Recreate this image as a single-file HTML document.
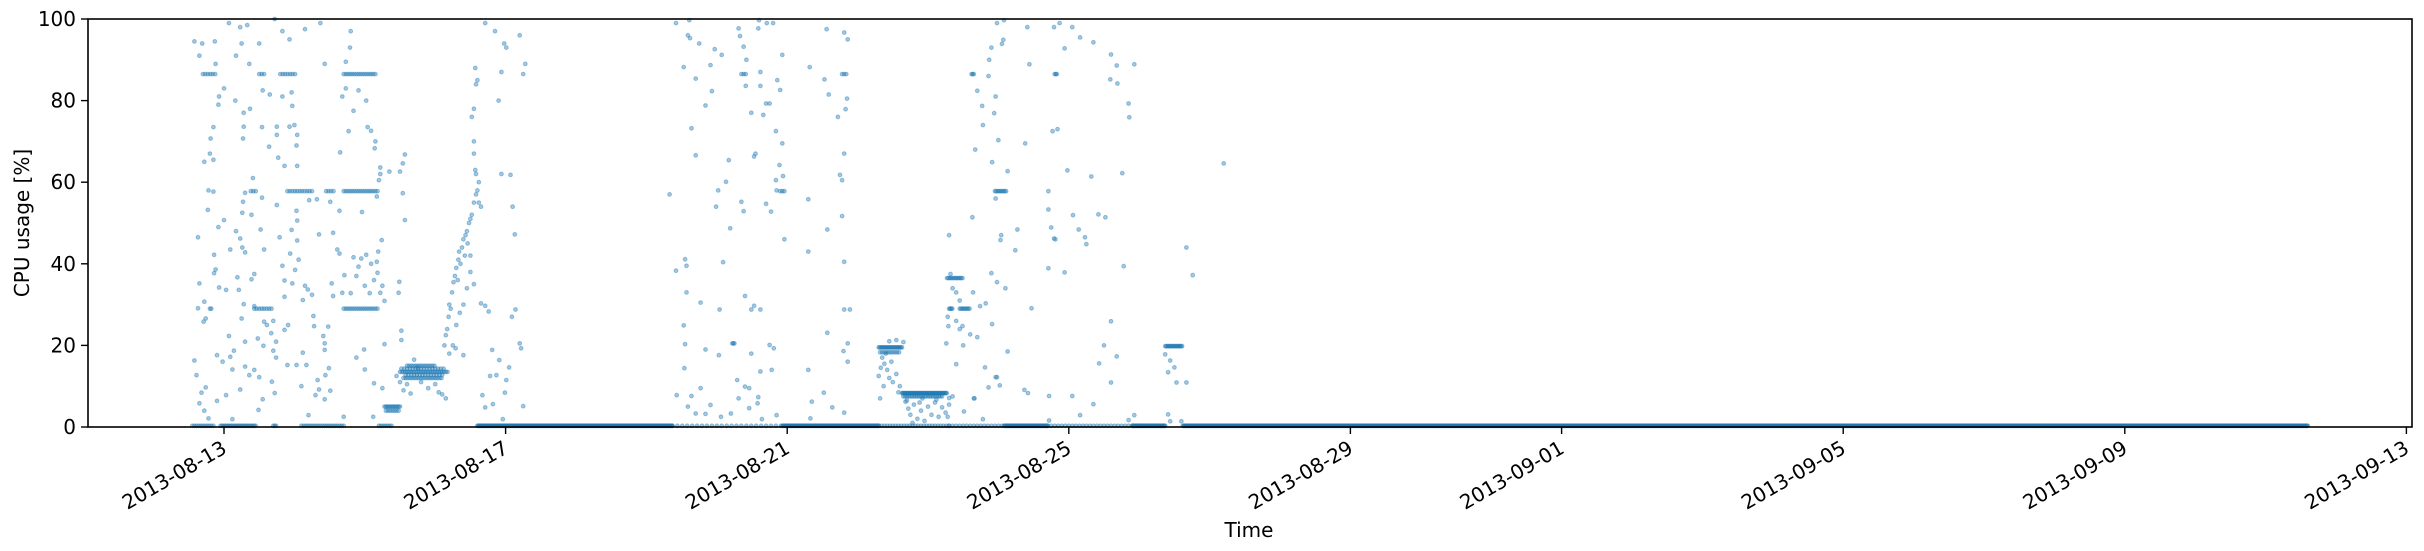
<!DOCTYPE html>
<html><head><meta charset="utf-8"><style>
html,body{margin:0;padding:0;background:#fff;}
svg{display:block;font-family:"DejaVu Sans","Liberation Sans",sans-serif;}
</style></head><body>
<svg id="chart" width="2424" height="551" viewBox="0 0 2424 551" xmlns="http://www.w3.org/2000/svg">
<g id="points"></g>
<g id="axes"></g>
</svg>
<script>
// x values: days since 2013-08-13 00:00; y values: CPU usage %
const xTickLabels = ["2013-08-13","2013-08-17","2013-08-21","2013-08-25","2013-08-29","2013-09-01","2013-09-05","2013-09-09","2013-09-13"];
const xTickDays = [0,4,8,12,16,19,23,27,31];
const yTickValues = [0,20,40,60,80,100];
// dense runs: [startDay, endDay, value, step]
const runs = [
[-0.3,-0.12,86.5,0.035],[0.5,0.6,86.5,0.035],[0.8,1.04,86.5,0.035],[1.7,2.17,86.5,0.03],
[0.38,0.45,57.8,0.035],[0.9,1.28,57.8,0.035],[1.45,1.57,57.8,0.035],[1.7,2.2,57.8,0.03],
[-0.2,-0.17,29,0.02],[0.43,0.68,29,0.035],[1.7,2.2,29,0.03],
[-0.45,-0.15,0.3,0.03],[-0.05,0.45,0.3,0.02],[0.7,0.75,0.3,0.02],[1.1,1.7,0.3,0.03],[2.2,2.4,0.3,0.03],
[2.28,2.5,5,0.02],[2.3,2.48,4,0.03],
[2.5,3.18,13.5,0.025],[2.55,3.1,12,0.03],[2.6,3.0,15,0.03],[2.52,3.15,14.3,0.04],[2.58,3.12,12.8,0.04],
[3.6,6.37,0.3,0.01],[6.37,7.93,0.3,0.07],[7.93,9.3,0.3,0.01],
[9.3,9.63,19.5,0.015],[9.32,9.6,18.3,0.03],
[9.63,10.27,8.3,0.012],[9.65,10.2,7.5,0.025],[9.3,10.3,0.3,0.04],
[10.27,10.5,36.5,0.02],[10.3,10.35,29,0.015],[10.45,10.6,29,0.02],
[10.62,10.65,86.5,0.015],[10.95,11.12,57.8,0.02],[11.8,11.84,86.5,0.015],
[10.3,11.08,0.3,0.05],[11.08,11.7,0.3,0.01],[11.7,12.9,0.3,0.05],[12.9,13.37,0.3,0.01],
[13.37,13.62,19.8,0.015],[13.62,29.6,0.3,0.01],
[7.22,7.26,20.5,0.015],[7.35,7.42,86.5,0.03],[7.9,7.96,57.8,0.03],[8.78,8.84,86.5,0.03]
];
const scatterDays = [-0.42,-0.31,-0.13,0.07,0.23,0.33,0.72,0.83,0.93,1.15,1.37,1.8,-0.35,-0.12,0.25,0.5,0.17,0.36,1.43,1.73,1.79,0,-0.07,0.16,0.55,0.65,0.83,0.96,1.73,1.91,2.02,1.68,1.84,-0.08,0.37,0.28,0.97,0.28,0.75,0.93,1.0,0.54,-0.15,2.04,2.09,-0.19,0.27,0.75,1.04,1.77,-0.2,-0.28,-0.15,0.64,1.03,1.65,2.15,2.14,0.77,0.86,1.04,2.57,2.54,2.22,2.35,2.5,2.22,2.2,0.41,-0.22,-0.15,0.3,0.54,1.21,1.32,1.51,2.17,2.54,0.27,-0.23,0.26,0.75,1.03,1.04,1.64,1.96,2.57,0,0.39,-0.08,0.52,0.17,0.79,0.96,1.35,1.55,-0.37,0.23,1.04,0.09,0.26,0.3,0.57,0.94,1.61,2.24,-0.14,1.06,1.64,1.84,1.95,2.02,2.19,1.01,0.83,1.91,2.09,2.17,-0.14,-0.12,-0.35,-0.07,0.03,0.21,0.19,0.43,0.39,0.86,0.97,1.19,1.25,1.15,1.53,1.71,1.88,2.0,2.13,2.18,2.25,2.49,2.48,1.55,1.68,1.8,2.07,2.22,2.28,0.86,-0.28,-0.37,0.28,0.43,1.12,-0.29,-0.26,0.25,0.57,1.27,0.7,0.91,0.67,0.61,0.86,1.48,1.28,0.07,0.3,0.48,0.74,1.41,1.43,0.56,2.28,2.52,2.52,-0.1,0.14,-0.02,0.09,0.7,1.12,1.43,1.99,1.88,0.74,-0.42,-0.39,0.12,0.3,0.36,0.43,0.5,0.9,1.03,1.17,2.0,1.49,0.68,1.1,1.33,1.44,2.13,-0.32,-0.26,0.23,0.72,1.35,1.51,2.25,-0.35,-0.1,0.03,0.55,1.3,1.43,-0.28,-0.22,0.49,1.2,1.7,2.12,0.12,
2.55,2.6,2.7,2.8,2.9,3.0,3.1,3.15,2.65,3.05,2.45,2.75,2.5,
3.13,3.15,3.17,3.19,3.2,3.22,3.24,3.26,3.28,3.3,3.32,3.33,3.34,3.36,3.38,3.4,3.42,3.43,3.45,3.46,3.48,3.5,3.52,3.55,3.58,3.6,3.62,3.5,3.45,3.4,3.35,3.3,3.25,3.2,3.55,3.5,3.57,3.55,3.52,3.55,3.58,3.6,3.57,3.55,3.58,3.62,3.65,
3.71,3.85,3.98,4.01,4.2,3.94,4.25,4.28,3.9,3.94,4.07,4.1,4.13,3.65,3.71,3.76,4.09,4.14,3.29,3.4,3.81,4.2,4.22,3.91,4.05,3.78,3.87,4.01,3.99,3.67,3.71,3.82,4.25,3.96,
6.33,6.42,6.61,6.59,6.62,6.75,6.97,7.07,6.91,6.53,6.7,6.93,6.84,6.64,6.7,7.17,7.13,7.02,6.99,7.19,6.42,6.55,6.57,7.09,6.57,6.77,7.4,6.53,6.55,6.84,7.03,6.54,6.77,6.43,6.64,6.59,6.91,6.7,6.84,7.06,7.2,
7.04,7.49,7.62,7.53,
7.31,7.33,7.38,7.42,7.59,7.6,7.71,7.8,7.62,7.41,7.62,7.86,7.9,7.93,7.49,7.66,7.7,7.75,7.84,7.93,7.55,7.53,7.89,7.94,7.84,7.85,7.7,7.38,7.35,7.77,7.96,8.3,8.3,8.32,8.53,8.56,8.81,8.86,8.59,8.85,8.83,8.72,8.81,8.75,8.78,8.78,8.57,8.81,8.89,8.81,8.57,8.86,8.8,8.86,8.3,8.52,8.35,8.64,8.81,8.33,7.64,7.75,7.81,7.49,7.62,7.78,7.29,7.4,7.46,7.59,7.31,7.58,7.46,7.85,
9.32,9.35,9.38,9.4,9.42,9.45,9.48,9.5,9.55,9.33,9.37,9.58,9.6,9.3,9.45,9.55,
9.65,9.7,9.72,9.75,9.8,9.85,9.88,9.9,9.95,10.0,10.05,10.1,10.15,10.2,10.25,9.68,9.78,9.92,10.12,10.3,10.3,10.35,
10.28,10.3,10.35,10.4,10.45,10.32,10.4,10.45,10.28,10.5,
10.7,10.7,10.77,10.78,10.86,10.87,10.96,10.94,11.05,11.07,10.9,10.98,11.0,10.67,10.91,11.13,10.96,10.63,11.04,11.03,11.24,11.27,11.38,11.41,11.44,11.08,10.9,10.98,10.64,11.1,10.74,11.47,10.82,10.91,10.49,10.29,10.6,10.26,11.13,10.4,10.81,10.96,10.98,11.02,10.86,11.42,11.37,11.72,12.05,10.66,10.65,10.51,10.78,
11.72,12.05,11.79,11.94,12.35,12.16,12.6,11.87,12.69,12.93,12.68,12.59,12.85,12.86,11.84,11.77,11.98,12.32,12.76,11.71,11.71,12.06,12.42,12.52,11.75,12.14,12.23,11.81,11.79,12.25,12.78,11.71,11.94,12.6,12.5,12.68,12.43,12.6,12.35,12.93,12.16,12.85,
13.44,13.44,13.5,13.41,13.53,13.67,13.37,13.41,13.6,13.76,13.67,14.2];
const scatterValues = [94.5,94,94.5,99,98,98.5,100,97,95,97.5,99,97,91,89,94,94,91,89,89,89.5,93,83,81,80,82.5,81.5,81,82,83,82.5,80,81,77.5,79,78,77,78.7,73.6,73.6,73.6,74,73.5,73.5,73.5,72.6,70.7,70.7,71.6,71.6,72.5,67,65,65.5,68.7,69,67.3,70,68.3,66,64,64,66.8,64.6,63.6,62.6,62.6,62,60.5,61,58,57.7,57.4,56.2,55.6,55.8,55.2,56.5,57.3,55.2,53.2,52.5,54.4,53,50.6,53,52.7,50.7,50.7,52,49,48.4,48,46.5,48.3,47.2,47.6,46.5,46.2,45.7,43.5,44,42.8,43.5,42.5,43.5,45.8,42.2,41,42.5,41.6,41.3,42.2,43,38.5,39.5,39.3,40,40.5,37.7,38.6,35.2,34.2,33.6,33.6,36.7,37.5,36.2,35.9,35.2,33.7,32.4,34.6,35.2,37.2,37,34.6,36,37.8,34.6,35.6,32.9,32.1,32.9,32.8,32.8,32.9,30.9,31.9,30.7,29.1,30.1,29.6,31.1,25.8,26.6,26.6,25.8,27.2,26,25,23,25,23.8,24.6,24.7,22.3,20.9,21.7,20.9,22.3,20.5,19.9,20.3,23.6,21.3,17.6,18.7,16,17.2,18.7,18.2,18.9,19,17,17,16.3,12.7,14.1,14.8,12.7,14,12.2,15.2,15.2,15.2,14.1,14.4,11.1,10,11.5,12.7,10.7,8.4,9.7,9.2,8.3,9.2,8.9,9.5,5.8,6.4,7.8,6.8,7.8,6.8,4,2.1,4.2,2.9,2.5,2.5,1.9,
9,10.5,16.5,11,9.5,10.5,8,7,8.2,8.5,12.5,14.5,11,
20,22.5,24,27,30,29,33,35.5,37,39,36,41,43,40,44,46,42,47,48,45,50,51,52,55,57,58,55,38,34,30,28,25,20,18,35,42,63,70,76,78,84,85,88,67,62,60,54,
99,97,94,93,96,87,86.5,89,80,62,61.8,54,47.2,30.3,29.7,28.3,27,28.8,19.3,17.6,18.9,20.5,19.3,16.4,14.6,12.5,12.7,11.5,8.4,7.8,4.8,5.6,5.1,1.9,
57,99,99.7,96,95.3,94,92.6,91.2,88.7,88.2,85.4,82.3,78.8,73.2,66.6,65.4,60.1,58,54,48.7,38.3,41.1,39.5,40.4,33,30.5,32.1,24.9,20.3,19,17.6,14.4,9.5,7.8,7.6,5,5.4,3.3,3.2,2.5,3.3,
28.8,28.8,28.8,29.7,
97.7,95.8,93.2,90,97.7,99.7,99,99,87,83.6,83.6,85,82.6,91.2,77,76.5,79.3,79.3,72.5,69.5,67,66.3,64.2,61.5,60.5,58,54.7,52.9,55.2,52.8,46,43,55.8,88.2,85.2,97.5,96.7,95,81.5,80.5,77.9,76,67,61.8,60.5,51.7,48.4,40.5,28.8,28.8,23.1,20.5,18.6,16,14,8.4,6.2,4.8,3.5,2.1,1.9,20.1,19.3,18,13.6,14,11.5,9.9,9.5,7.3,7,5.8,4.6,2.9,7,
17,15.5,18,14,12,16,11,13,14.5,10,8.5,10,12.5,21,21.3,20.8,
6.5,4.5,3,5.5,2,6,4,1.5,5,3,6,2.5,4.8,3.5,6.2,1,7,6.7,7.1,5.5,7.5,2.5,
47,34,33,31,37.5,26,24,27,20,22,
82.4,78.7,74,86,90,81,76.9,93.9,94.9,93,99,70.3,68,64.9,62.7,56,51.4,47,45.8,43.3,48.4,69.5,98,88.9,99.7,37.7,35.5,33,34,29.6,29.1,30.3,25.2,24.7,24.7,22.7,20.5,18.5,15.4,14.6,12.2,12.2,10.2,9.7,8.3,9.1,7.6,7.6,7,7,3.8,1.9,1.6,
98,98,92.8,94.3,95.5,91.3,99,84.2,88.9,88.6,85.2,79.3,75.9,73,72.5,62.9,61.4,62.2,57.8,53.3,51.9,52.1,51.4,48.9,48.4,46.5,46,46.2,44.8,39.4,38.9,37.9,25.9,20,17.3,15.6,10.9,5.6,2.9,2.9,1.7,1.4,
16.3,14.6,13.4,10.9,10.9,17.8,3.1,1.4,37.2,44,64.6,1];

const NS = "http://www.w3.org/2000/svg";
const plotL = 88, plotR = 2412, plotT = 19, plotB = 427;
const day0X = 224, pxPerDay = 70.4;
function xScale(d){ return day0X + d * pxPerDay; }
function yScale(v){ return plotB - (v / 100) * (plotB - plotT); }

const pts = document.getElementById('points');
function addPoint(d, v){
  const c = document.createElementNS(NS, 'circle');
  
  
  c.setAttribute('cx', xScale(d).toFixed(1));
  c.setAttribute('cy', yScale(v).toFixed(1));
  c.setAttribute('r', '1.9');
  c.setAttribute('fill', '#1f77b4');
  c.setAttribute('fill-opacity', '0.4');
  c.setAttribute('stroke', '#1f77b4');
  c.setAttribute('stroke-opacity', '0.4');
  c.setAttribute('stroke-width', '1');
  pts.appendChild(c);
}
runs.forEach(r => {
  for (let d = r[0]; d <= r[1] + 1e-9; d += r[3]) addPoint(d, r[2]);
});
const n = Math.min(scatterDays.length, scatterValues.length);
for (let i = 0; i < n; i++) addPoint(scatterDays[i], scatterValues[i]);

const ax = document.getElementById('axes');
function el(tag, attrs, text){
  const e = document.createElementNS(NS, tag);
  for (const k in attrs) e.setAttribute(k, attrs[k]);
  if (text !== undefined) e.textContent = text;
  ax.appendChild(e);
  return e;
}
const frame = el('rect', {x:plotL, y:plotT, width:plotR-plotL, height:plotB-plotT, fill:'none', stroke:'#000', 'stroke-width':1.6});



yTickValues.forEach(v => {
  const y = yScale(v);
  const t = el('line', {x1:plotL-7, x2:plotL, y1:y, y2:y, stroke:'#000', 'stroke-width':1.4});
  
  
  const lb = el('text', {x:76, y:y+7, 'text-anchor':'end', 'font-size':20, fill:'#000'}, String(v));
  
  
});
xTickDays.forEach((d, i) => {
  const x = xScale(d);
  const t = el('line', {x1:x, x2:x, y1:plotB, y2:plotB+7, stroke:'#000', 'stroke-width':1.4});
  
  
  const lb = el('text', {transform:'translate(' + (x+4) + ',452) rotate(-30)', 'text-anchor':'end', 'font-size':20, fill:'#000'}, xTickLabels[i]);
  
  
});
const yt = el('text', {transform:'translate(29,223) rotate(-90)', 'text-anchor':'middle', 'font-size':20, fill:'#000'}, 'CPU usage [%]');


const xt = el('text', {x:1249, y:537, 'text-anchor':'middle', 'font-size':20, fill:'#000'}, 'Time');


</script>
</body></html>
